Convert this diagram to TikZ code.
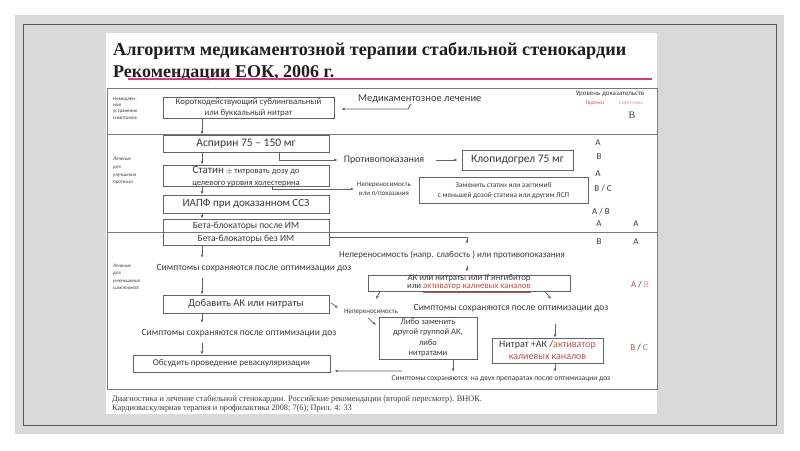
\documentclass[tikz,border=0pt]{standalone}
\usepackage{fontspec}
\setmainfont{Carlito}
\newfontfamily\tms{Liberation Serif}
\usetikzlibrary{arrows.meta,calc}
\definecolor{bgg}{HTML}{D9D9D9}
\definecolor{bord}{HTML}{595959}
\definecolor{lc}{HTML}{626262}
\definecolor{fc}{HTML}{7A7A7A}
\definecolor{tx}{HTML}{3A3A3A}
\definecolor{rd}{HTML}{C0504D}
\definecolor{pk}{HTML}{D6397E}
\definecolor{lpk}{HTML}{D99694}
\tikzset{
  box/.style={draw=lc, line width=0.8pt, text=tx, align=center, inner sep=1pt},
  lbl/.style={text=tx, align=center, inner sep=1pt},
  arr/.style={draw=lc, line width=0.7pt, -{Latex[length=3.2pt,width=2.8pt]}},
  ln/.style={draw=fc, line width=0.8pt},
  side/.style={text=tx, align=left, anchor=north west, inner sep=0pt},
  ev/.style={text=tx, inner sep=0pt, font=\fontsize{9}{10}\selectfont},
}
\begin{document}
\begin{tikzpicture}[x=1pt,y=-1pt]
\useasboundingbox (0,0) rectangle (800,450);
\fill[white] (0,0) rectangle (800,450);
\fill[bgg] (15,15) rectangle (784,434);
\draw[bord, line width=0.9pt] (23,24) rectangle (776,425);
\fill[white] (106,33) rectangle (657,414);
% title
\node[anchor=west, inner sep=0pt, font=\tms\bfseries\fontsize{18.2}{20}\selectfont, text=black!88] (t1) at (113,51) {Алгоритм медикаментозной терапии стабильной стенокардии};
\node[anchor=west, inner sep=0pt, font=\tms\bfseries\fontsize{18}{20}\selectfont, text=black!88] (t2) at (113,73) {Рекомендации ЕОК, 2006 г.};
\draw[pk, line width=2pt] (128,79) -- (652,79);
% frame
\draw[ln] (107,88) rectangle (657,389);
\draw[ln] (107,134) -- (657,134);
\draw[ln] (107,232) -- (657,232);
% side labels
\node[side, font=\fontsize{5}{6.2}\selectfont] (s1) at (113,97) {Немедлен-\\ное\\устранение\\симптомов};
\node[side, font=\itshape\fontsize{5}{7.8}\selectfont] (s2) at (113,157) {Лечение\\для\\улучшения\\прогноза};
\node[side, font=\itshape\fontsize{5}{7.4}\selectfont] (s3) at (113,264) {Лечение\\для\\уменьшения\\симптомов};
% header of evidence
\node[lbl, font=\fontsize{7}{8}\selectfont] (lev) at (610,94) {Уровень доказательств};
\node[lbl, text=rd, font=\fontsize{5.3}{6}\selectfont] (prog) at (595,103) {Прогноз};
\node[lbl, text=lpk, font=\fontsize{5.3}{6}\selectfont] (symh) at (631,103) {Симптомы};
\node[ev, font=\tms\fontsize{10}{11}\selectfont] (evh) at (632,115) {B};
% boxes
\node[box, minimum width=171, minimum height=21, font=\fontsize{8.8}{10.5}\selectfont] (nitr) at (248.5,107.5) {Короткодействующий сублингвальный\\или буккальный нитрат};
\node[lbl, anchor=west, font=\fontsize{10.5}{12}\selectfont] (med) at (357,99) {Медикаментозное лечение};
\node[box, minimum width=166, minimum height=17, font=\fontsize{11.5}{13}\selectfont] (asp) at (246,143.5) {Аспирин 75 – 150 мг};
\node[box, minimum width=166, minimum height=21] (stat) at (246,175.5) {};
\node[lbl, font=\fontsize{8.5}{10}\selectfont] (statA) at (246,171) {{\fontsize{11}{12}\selectfont Статин} $\pm$ титровать дозу до};
\node[lbl, font=\fontsize{8.5}{10}\selectfont] (statB) at (246,184) {целевого уровня холестерина};
\node[box, minimum width=166, minimum height=18, font=\fontsize{11}{13}\selectfont] (iapf) at (246,204) {ИАПФ при доказанном ССЗ};
\node[box, minimum width=166, minimum height=26] (beta) at (246,232) {};
\node[lbl, font=\fontsize{9.5}{11}\selectfont] (betaA) at (246,226) {Бета-блокаторы после ИМ};
\node[lbl, font=\fontsize{9.5}{11}\selectfont] (betaB) at (246,239) {Бета-блокаторы без ИМ};
\node[box, minimum width=166, minimum height=18, font=\fontsize{10.5}{12}\selectfont] (add) at (246,304) {Добавить АК или нитраты};
\node[box, minimum width=197, minimum height=17, font=\fontsize{9}{11}\selectfont] (obs) at (231.5,363.5) {Обсудить проведение реваскуляризации};
\node[box, minimum width=111, minimum height=20, font=\fontsize{11.5}{13}\selectfont] (clop) at (517.5,160) {Клопидогрел 75 мг};
\node[box, minimum width=169, minimum height=26, font=\fontsize{7.3}{9.5}\selectfont] (zam) at (503.5,190.5) {Заменить статин или эзетимиб\\с меньшей дозой статина или другим ЛСП};
\node[box, minimum width=202, minimum height=16] (ak) at (469,283) {};
\node[lbl, font=\fontsize{8.8}{10}\selectfont] (akA) at (469,278) {АК или нитраты или If ингибитор};
\node[lbl, font=\fontsize{8.8}{10}\selectfont] (akB) at (469,288.5) {или {\color{rd}\underline{активатор калиевых каналов}}};
\node[box, minimum width=98, minimum height=42, font=\fontsize{8.5}{10.5}\selectfont] (libo) at (428,338) {Либо заменить\\другой группой АК,\\либо\\нитратами};
\node[box, minimum width=111, minimum height=25, font=\fontsize{10}{12}\selectfont] (nitrat) at (547.5,350.5) {Нитрат +АК /{\color{rd}активатор}\\{\color{rd}калиевых каналов}};
% text nodes
\node[lbl, inner xsep=6pt, font=\fontsize{10}{12}\selectfont] (contr) at (384,160) {Противопоказания};
\node[lbl, inner xsep=3pt, font=\fontsize{7}{8.5}\selectfont] (nep1) at (384,189) {Непереносимость\\или п/показания};
\node[lbl, inner ysep=6pt, font=\fontsize{9.5}{11}\selectfont] (sym1) at (254,268) {Симптомы сохраняются после оптимизации доз};
\node[lbl, inner ysep=7pt, font=\fontsize{9}{11}\selectfont] (nep3) at (452,255) {Непереносимость (напр. слабость ) или противопоказания};
\node[lbl, inner ysep=12pt, font=\fontsize{9.5}{11}\selectfont] (sym3) at (511,308) {Симптомы сохраняются после оптимизации доз};
\node[lbl, font=\fontsize{7}{8}\selectfont] (nep4) at (371,312) {Непереносимость};
\node[lbl, inner ysep=6pt, font=\fontsize{9.5}{11}\selectfont] (sym2) at (239,333) {Симптомы сохраняются после оптимизации доз};
\node[lbl, inner ysep=4pt, font=\fontsize{7.5}{9}\selectfont] (sym4) at (501,379) {Симптомы сохраняются \ на двух препаратах после оптимизации доз};
% evidence letters
\node[ev] (e1) at (598,143) {A};
\node[ev] (e2) at (599,157) {B};
\node[ev] (e3) at (598,174) {A};
\node[ev] (e4) at (603,189) {B / C};
\node[ev] (e5) at (601,212) {A / B};
\node[ev] (e6) at (599,224) {A};
\node[ev] (e7) at (636,224) {A};
\node[ev] (e8) at (599,242) {B};
\node[ev] (e9) at (636,242) {A};
\node[ev] (e10) at (640,285) {{\color{rd}A} / {\color{lpk}B}};
\node[ev] (e11) at (639,348) {{\color{rd}B} / {\color{gray}C}};
% footer
\node[anchor=west, inner sep=0pt, text=tx, font=\tms\fontsize{8.3}{9}\selectfont] (f1) at (112,399) {Диагностика и лечение стабильной стенокардии. Российские рекомендации (второй пересмотр). ВНОК.};
\node[anchor=west, inner sep=0pt, text=tx, font=\tms\fontsize{8.3}{9}\selectfont] (f2) at (112,409) {Кардиоваскулярная терапия и профилактика 2008; 7(6); Прил. 4: 33};
% coordinates
\coordinate (cx) at (202,0);
\coordinate (cx2) at (279,0);
\coordinate (cx3) at (467,0);
\coordinate (cx4) at (272,0);
\coordinate (cx5) at (555,0);
\coordinate (cx6) at (453,0);
\coordinate (y109) at (0,109);
\coordinate (y237) at (0,237);
\coordinate (medk) at (411,104);
\coordinate (medb) at (408,109);
\coordinate (akL) at (380,0);
\coordinate (akLe) at (376,299);
\coordinate (akR) at (545,0);
\coordinate (akRe) at (551,299);
\coordinate (n4s) at (368,318);
\coordinate (n4e) at (376,325);
\coordinate (ads) at (331,303);
\coordinate (ade) at (338,308);
\coordinate (sk) at (402,371);
% connectors
\draw[arr, shorten >=7pt] (medk) -- (medb) -- (nitr.east |- y109);
\draw[arr] (cx |- nitr.south) -- (cx |- asp.north);
\draw[arr] (cx |- asp.south) -- (cx |- stat.north);
\draw[arr] (cx |- stat.south) -- (cx |- iapf.north);
\draw[arr] (cx |- iapf.south) -- (cx |- beta.north);
\draw[arr] (cx |- beta.south) -- (cx |- sym1.north);
\draw[arr] (cx |- sym1.south) -- (cx |- add.north);
\draw[arr] (cx |- add.south) -- (cx |- sym2.north);
\draw[arr] (cx |- sym2.south) -- (cx |- obs.north);
\draw[arr] (cx2 |- asp.south) |- (contr.west);
\draw[arr, shorten <=6pt, shorten >=4pt] (contr.east) -- (clop.west);
\draw[arr] (cx4 |- stat.south) -- (cx4 |- nep1.west) -- (nep1.west);
\draw[arr] (beta.east |- y237) -- (cx3 |- y237) -- (cx3 |- nep3.north);
\draw[arr, shorten >=3pt] (cx3 |- nep3.south) -- (cx3 |- ak.north);
\draw[arr] (akL |- ak.south) -- (akLe);
\draw[arr] (akR |- ak.south) -- (akRe);
\draw[arr] (ads) -- (ade);
\draw[arr] (n4s) -- (n4e);
\draw[arr] (cx5 |- sym3.south) -- (cx5 |- nitrat.north);
\draw[arr] (cx6 |- libo.south) -- (cx6 |- sym4.north);
\draw[arr] (cx5 |- nitrat.south) -- (cx5 |- sym4.north);
\draw[arr] (sk) -- ($(obs.south east)+(4,-1.5)$);
\end{tikzpicture}
\end{document}
